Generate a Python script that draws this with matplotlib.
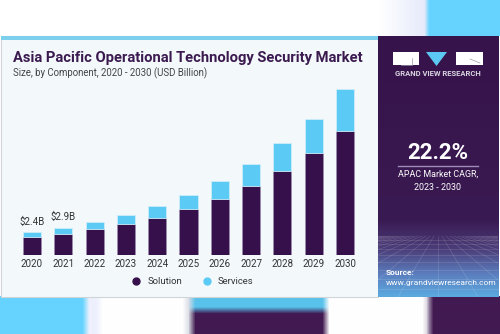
import matplotlib.pyplot as plt
import numpy as np
from matplotlib.patches import Rectangle, Polygon
from matplotlib.lines import Line2D
from matplotlib.colors import to_rgb

plt.rcParams['font.family'] = ['Roboto', 'DejaVu Sans']

# data (USD billion)
years = ['2020', '2021', '2022', '2023', '2024', '2025', '2026', '2027', '2028', '2029', '2030']
solution = [1.88, 2.23, 2.72, 3.25, 3.96, 4.88, 5.94, 7.28, 8.91, 10.78, 13.15]
services = [0.52, 0.67, 0.74, 1.02, 1.24, 1.52, 1.87, 2.41, 2.94, 3.64, 4.42]
labelled = [0, 1]

c_sol = '#36104A'
c_srv = '#5BCBF5'

W, H = 500, 334
fig = plt.figure(figsize=(W / 100, H / 100), dpi=100)

# background drawn in pixel coordinates
bg = fig.add_axes([0, 0, 1, 1], zorder=0)
bg.set_xlim(0, W)
bg.set_ylim(H, 0)
bg.axis('off')


def blur(img, k):
    ker = np.ones(k) / k
    out = img.copy()
    for c in range(3):
        out[:, :, c] = np.apply_along_axis(lambda r: np.convolve(np.pad(r, k, mode='edge'), ker, 'same')[k:-k], 1, out[:, :, c])
        out[:, :, c] = np.apply_along_axis(lambda r: np.convolve(np.pad(r, k, mode='edge'), ker, 'same')[k:-k], 0, out[:, :, c])
    return out


# top band
top = np.ones((36, W, 3))
lav = np.array(to_rgb('#E4E9FB'))
for x in range(380, 427):
    t = (x - 380) / 47
    top[:, x] = (1 - t) * np.ones(3) + t * lav
top[:, 427:] = to_rgb('#66D3FF')
top = blur(top, 5)
bg.imshow(top, extent=(0, W, 36, 0), aspect='auto', zorder=0, interpolation='bilinear')

# bottom band
bot = np.ones((40, W, 3))
bot[:, :86] = to_rgb('#66D3FF')
bot[:, 86:100] = to_rgb('#EEF1FD')
bot[:, 186:192] = to_rgb('#D8DCE4')
bot[:, 192:326] = to_rgb('#421A52')
bot[:15, 192:326] = to_rgb('#58C3EC')
bot[:, 430:] = to_rgb('#421A52')
bot[:, 426:430] = to_rgb('#C8C0D0')
bot = blur(bot, 7)
bg.imshow(bot, extent=(0, W, H, 296), aspect='auto', zorder=0, interpolation='bilinear')

# card
bg.add_patch(Rectangle((0.5, 36), 377, 261, fc='#F3F8FB', ec='#CFD4D8', lw=0.8, zorder=1))
bg.add_patch(Rectangle((0.5, 36), 377, 4, fc='#7DCFEE', ec='none', zorder=2))

# right panel gradient
stops_y = [36, 220, 250, 275, 297]
stops_c = ['#36134A', '#3A1A52', '#4B3E7A', '#5C7FBF', '#5BA9E0']
ys = np.linspace(36, 297, 262)
panel = np.zeros((len(ys), 1, 3))
for ch in range(3):
    panel[:, 0, ch] = np.interp(ys, stops_y, [to_rgb(c)[ch] for c in stops_c])
bg.imshow(panel, extent=(377.5, 498, 297, 36), aspect='auto', zorder=1)

# faint perspective grid at bottom of panel
clip = Rectangle((377.5, 236), 120.5, 61, transform=bg.transData)
for k in range(-14, 15):
    ln, = bg.plot([438 + k * 4, 438 + k * 40], [236, 297], color='white', lw=0.4, alpha=0.2, zorder=2)
    ln.set_clip_path(clip)
for yy in [240, 244, 249, 255, 262, 270, 279, 289]:
    bg.plot([377.5, 498], [yy, yy], color='white', lw=0.4, alpha=0.2, zorder=2)

# logo
bg.add_patch(Rectangle((393, 52), 26, 13, fc='white', ec='none', zorder=3))
bg.add_patch(Rectangle((456, 52), 27, 13, fc='white', ec='none', zorder=3))
bg.add_patch(Polygon([(426, 52), (447, 52), (436.5, 66)], closed=True, fc='#5BC8F3', ec='none', zorder=3))
bg.plot([401, 412, 412], [65, 65, 58], color='#9A9AA8', lw=0.5, zorder=4)
bg.plot([470, 480], [59, 63], color='#9A9AA8', lw=0.5, zorder=4)
bg.text(438, 73.5, 'GRAND VIEW RESEARCH', color='#D8D4E0', fontsize=5.5, fontweight='bold',
        ha='center', va='center', zorder=4)

# CAGR block
bg.text(438, 153, '22.2%', color='white', fontsize=16, fontweight='bold', ha='center', va='center', zorder=4)
bg.plot([398, 478], [165.7, 165.7], color='#A08CB8', lw=1, zorder=4)
bg.text(438, 174.5, 'APAC Market CAGR,', color='white', fontsize=6.4, ha='center', va='center', zorder=4)
bg.text(438, 187, '2023 - 2030', color='white', fontsize=6.4, ha='center', va='center', zorder=4)
bg.text(386, 272.5, 'Source:', color='white', fontsize=6, fontweight='bold', ha='left', va='center', zorder=4)
bg.text(386, 283, 'www.grandviewresearch.com', color='white', fontsize=6, ha='left', va='center', zorder=4)

# titles
bg.text(13, 58, 'Asia Pacific Operational Technology Security Market', color='#3B1A4F',
        fontsize=10.6, fontweight='bold', ha='left', va='center', zorder=4)
bg.text(13, 73, 'Size, by Component, 2020 - 2030 (USD Billion)', color='#444444',
        fontsize=6.95, ha='left', va='center', zorder=4)

# chart
ax = fig.add_axes([10 / W, (H - 255) / H, 357 / W, 170 / H], zorder=2)
ax.patch.set_alpha(0)
x = np.arange(len(years))
ax.bar(x, solution, width=0.575, color=c_sol, edgecolor='#9C8DB3', linewidth=0.5)
ax.bar(x, services, width=0.575, bottom=solution, color=c_srv, edgecolor='#D6EEF9', linewidth=0.5)
for i in labelled:
    tot = solution[i] + services[i]
    ax.annotate(f'${tot:.1f}B', (x[i], tot), xytext=(0, 4), textcoords='offset points',
                ha='center', va='bottom', fontsize=7, color='#333333')
ax.set_xlim(-0.7, 10.7)
ax.set_ylim(0, 18.03)
ax.set_xticks(x)
ax.set_xticklabels(years, fontsize=7, color='#333333')
ax.tick_params(axis='x', length=0, pad=3)
ax.set_yticks([])
for s in ax.spines.values():
    s.set_visible(False)

handles = [Line2D([], [], ls='none', marker='o', ms=5, color=c_sol),
           Line2D([], [], ls='none', marker='o', ms=5, color=c_srv)]
fig.legend(handles, ['Solution', 'Services'], loc='center', bbox_to_anchor=(190 / W, 1 - 281.5 / H),
           ncol=2, frameon=False, fontsize=6.8, handletextpad=0.2, columnspacing=1.6,
           labelcolor='#333333')

fig.savefig('out.png', dpi=100)
